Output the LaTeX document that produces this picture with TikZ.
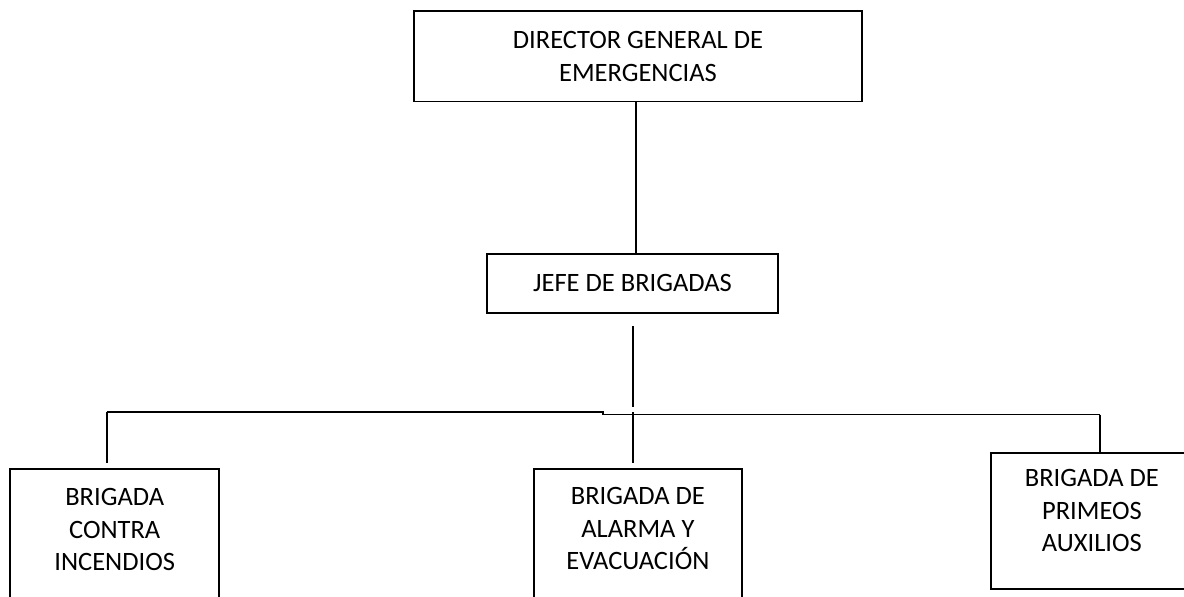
\documentclass[tikz,border=0pt]{standalone}
\usepackage{fontspec}
\setmainfont{Carlito}
\begin{document}
\begin{tikzpicture}[x=1pt,y=-1pt,line width=1.8pt,
  box/.style={draw,rectangle,inner sep=0pt},
  caption/.style={align=center,inner sep=0pt,font=\fontsize{26.5}{32.5}\selectfont}]
\useasboundingbox (0,0) rectangle (1184,597);
% cajas
\node[box,caption,minimum width=448,minimum height=90.5] (director) at (638,56.25) {DIRECTOR GENERAL DE\\EMERGENCIAS};
\node[box,caption,minimum width=290.4,minimum height=58.7] (jefe) at (632.5,283.35) {JEFE DE BRIGADAS};
\node[box,minimum width=209,minimum height=137,anchor=north west] (incendios) at (9.3,467.7) {};
\node[box,minimum width=208.6,minimum height=137,anchor=north west] (alarma) at (532.7,467.7) {};
\node[box,minimum width=210,minimum height=136.6,anchor=north west] (auxilios) at (990,451.7) {};
\node[caption,anchor=north] (incendios text) at ([yshift=-20pt]incendios.north) {BRIGADA\\CONTRA\\INCENDIOS};
\node[caption,anchor=north] (alarma text) at ([yshift=-19pt]alarma.north) {BRIGADA DE\\ALARMA Y\\EVACUACIÓN};
\node[caption,anchor=north] (auxilios text) at ([xshift=-4pt,yshift=-17pt]auxilios.north) {BRIGADA DE\\PRIMEOS\\AUXILIOS};
% lineas
\draw ([xshift=-2pt]director.south) -- ([xshift=-2pt]director.south |- jefe.north);
\coordinate (tronco) at (633.3,326);
\coordinate (tronco fin) at (633.3,406.7);
\coordinate (barra w) at (106.7,412.3);
\coordinate (barra m) at (603.3,412.3);
\coordinate (barra e) at (1100,414.5);
\draw (tronco) -- (tronco fin);
\draw (barra w) -- (barra m) -- (barra m |- barra e) -- (barra e);
\draw (barra w) -- ([yshift=5pt]barra w |- incendios.north);
\draw (tronco fin |- barra m) -- ([yshift=5pt]tronco fin |- alarma.north);
\draw (barra e) -- (barra e |- auxilios.north);
\end{tikzpicture}
\end{document}
